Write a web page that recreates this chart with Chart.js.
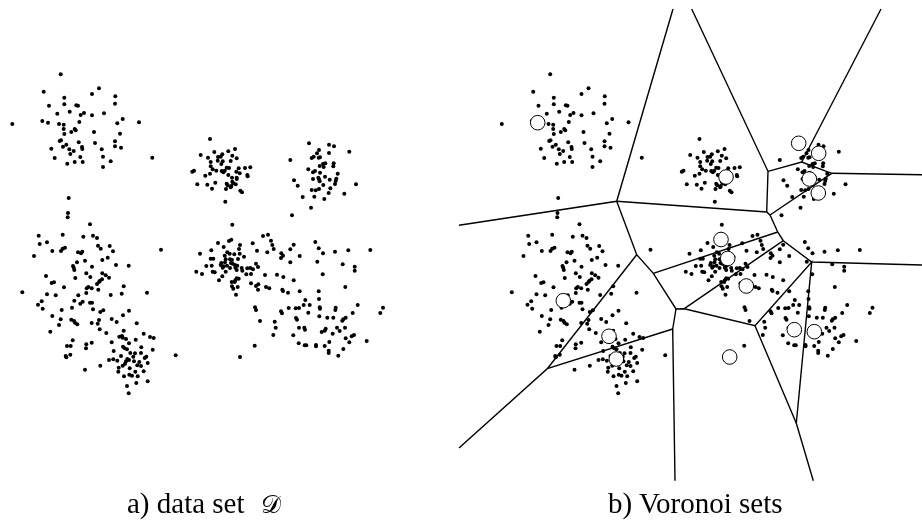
<!DOCTYPE html>
<html>
<head>
<meta charset="utf-8">
<script src="https://cdn.jsdelivr.net/npm/chart.js@4"></script>
<style>
  body { margin: 0; background: #fff; }
  #wrap { position: relative; width: 922px; height: 521px; overflow: hidden; }
  .caption { position: absolute; top: 487px; font: 29px "Liberation Serif", serif; color: #000; white-space: nowrap; }
  .caption .cal { font-family: "DejaVu Serif", "DejaVu Sans", serif; font-size: 25px; margin-left: 9px; }
</style>
</head>
<body>
<div id="wrap">
  <canvas id="voronoiChart" width="922" height="521"></canvas>
  <div class="caption" style="left:127px">a) data set <span class="cal">𝒟</span></div>
  <div class="caption" style="left:608px">b) Voronoi sets</div>
</div>
<script>
// same data set in both panels
const clusterTopLeft = [[60.7,74.3],[43.7,91.7],[99,88.3],[92,94],[115.3,96.3],[64.3,97.7],[115,103.7],[64.3,104.3],[49,105.7],[76.3,105.3],[78,105.7],[69.7,111.7],[57.3,113.7],[80.7,115],[84,113],[92,115.3],[104,113.3],[122.7,119],[42.3,121],[48,122.7],[79.3,122],[59,124],[63.7,124.7],[117.3,123.3],[139,122.3],[12.3,124],[63.7,129],[74.7,129],[75.7,130.3],[71.3,132],[94,132],[64.3,134],[120,133.7],[59.7,141],[61,140.3],[78.7,142.3],[115,141.3],[95,143],[66.3,144.7],[63,146.7],[82,147],[115,146.3],[121,147.7],[51.3,148.7],[69.3,149.3],[82.3,149],[101.7,149.3],[73.7,151],[70.3,154],[80.3,157],[103,156.7],[54.7,158],[152.3,157.7],[74.7,162],[82.7,162],[110.7,161.3],[67.3,163.7],[103,167]];

const clusterTopMiddle = [[210,139],[200.7,155],[214.3,152],[228.3,151.3],[235,149],[208,157.7],[218,157],[222.3,154.3],[220.7,156.7],[232.3,155.7],[236.7,158.3],[210.7,162],[217.7,160.7],[222.7,161.3],[230.7,161],[221.3,164],[210.7,166.3],[212.7,169.3],[216.3,170.7],[221.7,171],[223.3,172.3],[224.7,170.7],[226.7,167.7],[229,168],[238.7,168.3],[245,168],[250.3,167.3],[194,170.7],[192.3,171.7],[210,173.7],[205.3,175.7],[228.3,175],[236.3,171.7],[239.7,173.3],[247.3,175],[247.7,176.3],[232,177.7],[236.7,177.7],[236.7,179],[232.3,181.7],[215.3,182.7],[197.3,184.3],[207.3,184.7],[226.7,183.7],[233.3,183.3],[235.7,184.3],[227.7,185.3],[231.3,186],[230.7,187.3],[212,188.7],[226,189],[240.3,190.7],[242,192.3],[225.3,201.7],[232.3,224.7]];

const clusterTopRight = [[309,143.3],[329,144.7],[334,146.3],[319,150],[349.3,151.7],[317,153.3],[329,153],[313.7,156.7],[311.7,158],[318.7,157.7],[320,157.3],[290.3,160],[333.7,163.3],[325.3,163.3],[323,164],[319.7,166],[323.7,167],[333.3,166.3],[308.3,169.3],[315,171],[313,172.3],[320,172.7],[337.7,173.7],[325,176.7],[313,179],[318.3,177.7],[319,179.3],[319.7,181.3],[329.7,179.7],[336.3,178.7],[335.7,181],[294,180.3],[297.7,185.7],[323.3,185],[335,184],[356,184.3],[330.3,188.3],[311.7,190],[315.7,190.3],[319,189],[328.7,193],[344.3,193.7],[302.7,197],[314.3,196.7],[324.3,199],[311,207.7],[292,215.3]];

const clusterMidLeft = [[68.7,198],[68,213],[67.7,217.3],[90,224.3],[38.7,235.7],[62.7,234.7],[83.3,236.7],[93,235.7],[97,238],[47,242.3],[39.7,244],[98,245.7],[109.7,246],[100.7,248.7],[65,247.7],[62.7,248.7],[61,251],[52.3,251],[78,252.3],[82.3,251.7],[81,253.3],[113,251.3],[161,249.7],[34,256],[107.7,257.7],[102.3,260],[85,260.7],[77,262.3],[116,265],[128.7,265.7],[73,266],[73.7,267.7],[74.3,270],[92,266.7],[86.3,273.3],[102.3,273.3],[105.7,275.3],[46,276],[90.3,277],[109,277.7],[75.3,278],[102,279.3],[100,280.7],[99,282],[97,284],[54,282.3],[51.7,283],[123.7,286.3],[64,287.3],[88.3,287],[86.7,288.3],[91.7,288.3],[98.3,289.7],[22.3,292.3],[86.3,293],[147,292.7],[121.7,293.7],[47,294.3],[55.7,295.3],[78.3,295.3],[110.7,295]];

const clusterLowLeft = [[74.3,300.7],[41.7,301.3],[38,304.7],[82.7,301.7],[80.3,303.7],[90,302.7],[92,302.7],[72,307.7],[42.7,308.7],[61.7,310],[93,309.3],[103.3,310.3],[100.3,312],[129,310.7],[123,315.3],[52.3,316],[60.7,319.3],[71.3,319.7],[74,321],[75,322.7],[77.3,324.3],[99,320],[111.7,319],[116.7,322],[91.7,323],[97.7,323.7],[136.7,323.3],[59,325],[99.7,329.3],[50.3,331.7],[106.3,333],[123.7,330.7],[143.7,333.7],[119.3,336.7],[122,336],[122.7,337.7],[126,339],[150,337],[153.7,338],[135.7,339.7],[72.7,340.3],[91.7,342.7],[111.7,342.3],[129,343.3],[86.3,344.3],[67,346],[70.7,346],[86,348.3],[123,346.7],[124.7,348.3],[127,349.3],[141.3,347.3],[152.7,349.7],[113.7,351],[130.3,353],[135,353.3],[141,353],[70.3,354.7],[65.7,356],[66.3,357.3],[175.7,355.3],[121,356],[133.3,356.7],[146.3,356.7],[144.7,358],[109,360],[113.3,359.3],[117.3,360.7],[127.3,359],[129,360],[126,361.3],[134,361.3],[139.3,362],[147.7,363],[125,363.7],[122.7,365.7],[137.3,365.3],[141,366],[100.3,365.7],[118.7,367.7],[129.7,368.3],[85,369.7],[118.3,371.7],[135.3,371.7],[143.7,371.3],[129.3,374.7],[132,375.7],[124,376.3],[137.7,376.3],[147.7,381.3],[136.3,383],[127,386],[128.7,393.3]];

const clusterCentre = [[263,236],[268,234.7],[271,240.7],[231.3,239.7],[229,241],[218,243],[252.7,243.3],[240,245],[272.3,245],[293.7,244.7],[315.3,242],[223.7,247],[239,249],[273.7,249],[290.3,249.3],[211.3,250.3],[257,250.7],[318.7,248.3],[335,251.7],[348.3,250.3],[370.3,250],[200,253.7],[227.3,252.3],[229.7,253.7],[234.3,254.3],[239.7,253.7],[267.3,252.3],[281.3,253.3],[323,253.3],[224.7,255.7],[244,256.7],[283,255.7],[299.7,256],[281,258],[210.7,258.7],[213.3,258.7],[225.7,259.3],[230,259.3],[232,260],[238,259],[225,262.3],[290.3,262.3],[317.3,261.7],[342.7,264.3],[221.3,263],[231,263],[232.7,263.7],[256,263.7],[206.3,266],[211.7,265.7],[220.7,265],[223.7,266.3],[227,265.7],[235,265],[237.3,265.7],[258,267],[354.7,266.7],[222.7,267.7],[230,268],[235.3,267.7],[241.7,268],[247.3,268.3],[250.3,268],[253,269.3],[236.7,270],[242.3,270.7],[225.7,271.7],[354.7,270.7],[196.3,271.7],[212.7,271.7],[214.7,272.3],[202,274],[246.3,274.3],[251,274],[265,275],[277,274.7],[322.7,274.3],[222.3,276.3],[283.3,277],[219,280.3],[236.7,278.3],[238.7,278.7],[235.3,280.3],[231.7,282],[234.7,282],[293.7,280.3],[251,283.3],[258.3,284.3],[256,286],[232,286.3],[237.7,287],[266,287],[269.3,288.3],[345.3,287],[233.3,288.7],[258,289.7],[282.3,289.7],[283,291],[288,292.7],[299.7,291.3],[318.7,291.3],[236,294.7]];

const clusterLowRight = [[319,299],[305.3,300],[303.7,305],[309.7,305],[357.7,305],[255,307.3],[288.7,308],[295.7,308.3],[299,308],[319.7,307.3],[320,308.7],[256,310],[335.7,307.7],[335.3,310],[383,307.7],[281,311.3],[282,313.3],[308.3,312.7],[352.7,313],[380.3,313],[319.3,316.3],[327.3,317.7],[333.3,317.7],[296,318],[297,319.7],[345.7,317.7],[343.3,319.3],[342.3,320.7],[260,321],[274.7,321.7],[275.7,327.7],[299,327.7],[304.3,327.7],[305,329.7],[325.7,328.7],[324.7,330.7],[321.7,332],[337,327.7],[339.7,331],[345,327.7],[332.7,333.7],[273.3,335],[293.3,335.3],[354,335],[351.7,336.3],[345.7,338.3],[366.7,341],[329.3,342],[349.3,342.3],[298.7,343.3],[304.7,345.3],[306.3,345.3],[316,345],[316,346.3],[324.7,346],[254.7,345.7],[343.3,349],[328.7,350.7],[328.7,353],[338.3,355.7],[240,357]];

const centres = [[537.7,122.7],[726,177],[798.7,143.3],[818.7,153.3],[809.3,179],[818.3,193],[721,239.5],[727.7,258.5],[746.3,286],[563.3,300.7],[794.3,329.7],[814.3,331.7],[609,336.3],[616.3,359],[729.7,357]];

// voronoi boundaries, each one a broken line
const boundaries = [
  [[459,225.3],[616.7,201.3],[673,9]],
  [[616.7,201.3],[766.7,212],[770,215],[777.7,232],[783.3,240.7],[811.7,262],[922,265]],
  [[616.7,201.3],[636.7,254.7],[653.3,273.3],[676,309],[684.3,308.7],[755,325.7],[811.7,262],[796.3,423.3]],
  [[691.7,9],[768,171.3],[766.7,212]],
  [[768,171.3],[801.7,162],[831.7,173.3],[922,174.7]],
  [[801.7,162],[881,9]],
  [[831.7,173.3],[770,215]],
  [[755,325.7],[796.3,423.3],[813.3,480.7]],
  [[684.3,308.7],[783.3,240.7]],
  [[653.3,273.3],[777.7,232]],
  [[676,309],[672.7,329],[675,480.7]],
  [[672.7,329],[547.3,368.7],[459,448]],
  [[636.7,254.7],[547.3,368.7]]
];

const panelShift = 489.5;
const allDots = [clusterTopLeft, clusterTopMiddle, clusterTopRight, clusterMidLeft, clusterLowLeft, clusterCentre, clusterLowRight].flat();
const toXY = p => ({ x: p[0], y: p[1] });

const dotStyle = { pointRadius: 2, pointBackgroundColor: "#000", pointBorderWidth: 0, showLine: false };

const datasets = [
  {
    label: "centres",
    data: centres.map(toXY),
    pointRadius: 7.3,
    pointBackgroundColor: "#fff",
    pointBorderColor: "#000",
    pointBorderWidth: 1,
    showLine: false,
    order: 0
  },
  { label: "data set", data: allDots.map(toXY), order: 1, ...dotStyle },
  { label: "data set shifted", data: allDots.map(toXY), xAxisID: "xRight", order: 1, ...dotStyle }
];

boundaries.forEach((line, i) => {
  datasets.push({
    label: "boundary " + i,
    data: line.map(toXY),
    showLine: true,
    borderColor: "#000",
    borderWidth: 1.4,
    pointRadius: 0,
    tension: 0,
    order: 2
  });
});

new Chart(document.getElementById("voronoiChart"), {
  type: "scatter",
  data: { datasets: datasets },
  options: {
    responsive: false,
    animation: false,
    layout: { padding: 0, autoPadding: false },
    plugins: { legend: { display: false }, tooltip: { enabled: false } },
    scales: {
      x: { type: "linear", min: 0, max: 922, display: false },
      xRight: { type: "linear", min: -panelShift, max: 922 - panelShift, display: false },
      y: { type: "linear", min: 0, max: 521, reverse: true, display: false }
    }
  }
});
</script>
</body>
</html>
